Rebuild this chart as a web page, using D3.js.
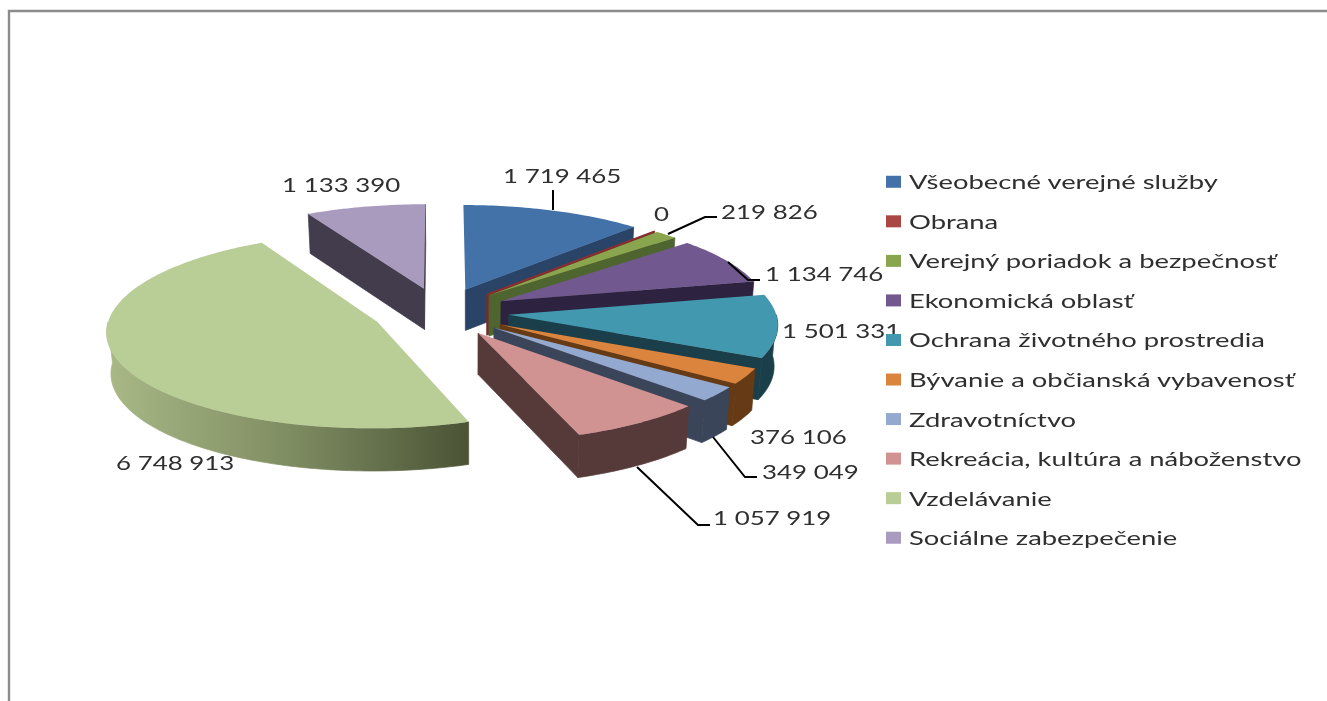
<!DOCTYPE html>
<html><head><meta charset="utf-8">
<script src="https://cdnjs.cloudflare.com/ajax/libs/d3/7.8.5/d3.min.js"></script>
<style>html,body{margin:0;padding:0;background:#fff;overflow:hidden}svg{display:block;filter:blur(0.55px)}</style>
</head><body><svg id="c" width="1327" height="701"></svg>
<script>
const categories=["Všeobecné verejné služby","Obrana","Verejný poriadok a bezpečnosť","Ekonomická oblasť","Ochrana životného prostredia","Bývanie a občianská vybavenosť","Zdravotníctvo","Rekreácia, kultúra a náboženstvo","Vzdelávanie","Sociálne zabezpečenie"];
const values=[1719465,0,219826,1134746,1501331,376106,349049,1057919,6748913,1133390];
const topColors=["#4272a8","#aa4643","#89a54e","#71588f","#4198af","#db843d","#93a9cf","#d19392","#b9cd96","#a99bbd"];
const wallColors=["#2a4468","#7a2a2a","#4f6530","#2d2240","#1a3f4a","#653a14","#3b4559","#563a3a","url(#eduWall)","#433c4d"];
// label placement: [x of left edge, y of baseline]
const labelPos=[[503,183],[654,221],[721,219],[765,281],[782,338],[750,444],[762,479],[713,525],[116,470],[282,192]];
// leader polylines (only where the reference draws them)
const leaders=[[[553,190],[553,210]],null,[[717,217],[705,217],[668,234]],[[760,280],[748,280],[728,262]],null,null,[[757,477],[745,477],[713,437]],[[710,525],[698,525],[637,467]],null,null];

const TEXT="#2f2f2f",FONT="Lato, 'Open Sans', sans-serif",FS=20,SX_LABEL=1.295,SX_LEGEND=1.37;
const cx=440.5,cy=312,R=267,Rv=95.5,explode=0.256,k=0.085,depth=41,shrink=0.988,pivot=cx+30;
const svg=d3.select("#c");
const defs=svg.append("defs");
const g=defs.append("linearGradient").attr("id","eduWall").attr("gradientUnits","userSpaceOnUse").attr("x1",108).attr("x2",470).attr("y1",0).attr("y2",0);
g.append("stop").attr("offset",0).attr("stop-color","#a9b886");
g.append("stop").attr("offset",.5).attr("stop-color","#7f8d62");
g.append("stop").attr("offset",1).attr("stop-color","#4a5335");

// frame
svg.append("path").attr("d",d3.line()([[9,701],[9,11],[1327,11]])).attr("fill","none").attr("stroke","#8c8c8c").attr("stroke-width",2.4);

const xS=d3.scaleLinear().domain([0,1]).range([cx,cx+R]);
const yS=d3.scaleLinear().domain([0,1]).range([cy,cy+Rv]);
const pie=d3.pie().sort(null).value(d=>d)(values);
const line=d3.line();
function P(d,th,rho,down){
  const m=(d.startAngle+d.endAngle)/2;
  const u=explode*Math.sin(m)+rho*Math.sin(th), v=-explode*Math.cos(m)-rho*Math.cos(th);
  const w=1/(1-k*v);
  let X=xS(u*w),Y=yS(v*w);
  if(down){X=pivot+(X-pivot)*shrink;Y+=depth*Math.pow(w,0.4);}
  return [X,Y];
}
function samples(a,b){const n=Math.max(1,Math.ceil((b-a)/(Math.PI/180)));return d3.range(n+1).map(i=>a+(b-a)*i/n);}
const layer=svg.append("g");
pie.forEach((d,i)=>{
  const a0=d.startAngle,a1=d.endAngle,wall=wallColors[i],col=topColors[i];
  const radial=t=>[P(d,t,0,0),P(d,t,1,0),P(d,t,1,1),P(d,t,0,1)];
  const wp=s=>layer.append("path").attr("d",s).attr("fill",wall).attr("stroke",wall).attr("stroke-width",0.7);
  if(-Math.cos(a0-Math.PI/2)>0) wp(line(radial(a0))+"Z");
  if(-Math.cos(a1+Math.PI/2)>0) wp(line(radial(a1))+"Z");
  const o0=Math.max(a0,Math.PI/2),o1=Math.min(a1,Math.PI*1.5);
  if(o1>o0){
    const s=samples(o0,o1);
    wp(line([...s.map(t=>P(d,t,1,0)),...s.slice().reverse().map(t=>P(d,t,1,1))])+"Z");
  }
  layer.append("path").attr("d",line([P(d,a0,0,0),...samples(a0,a1).map(t=>P(d,t,1,0))])+"Z")
    .attr("fill",col).attr("stroke",values[i]===0?"#8a3030":"none").attr("stroke-width",values[i]===0?1.6:0);
});

// leaders
leaders.forEach(l=>{if(l)svg.append("path").attr("d",line(l)).attr("fill","none").attr("stroke","#000").attr("stroke-width",2);});

// data labels
const fmt=d3.formatLocale({thousands:" ",grouping:[3],decimal:",",currency:["",""]}).format(",d");
function text(s,x,y,sx){
  return svg.append("text").text(s).attr("transform",`translate(${x},${y}) scale(${sx},1)`)
   .attr("font-family",FONT).attr("font-size",FS).attr("fill",TEXT);
}
values.forEach((v,i)=>text(fmt(v),labelPos[i][0],labelPos[i][1],SX_LABEL));

// legend
const ly=d3.scaleBand().domain(categories).range([162.5,558]);
categories.forEach((c,i)=>{
  const yc=ly(c)+ly.bandwidth()/2;
  svg.append("rect").attr("x",886).attr("y",yc-6.5).attr("width",15).attr("height",12).attr("fill",topColors[i]);
  text(c,909,yc+7,SX_LEGEND);
});
</script></body></html>
